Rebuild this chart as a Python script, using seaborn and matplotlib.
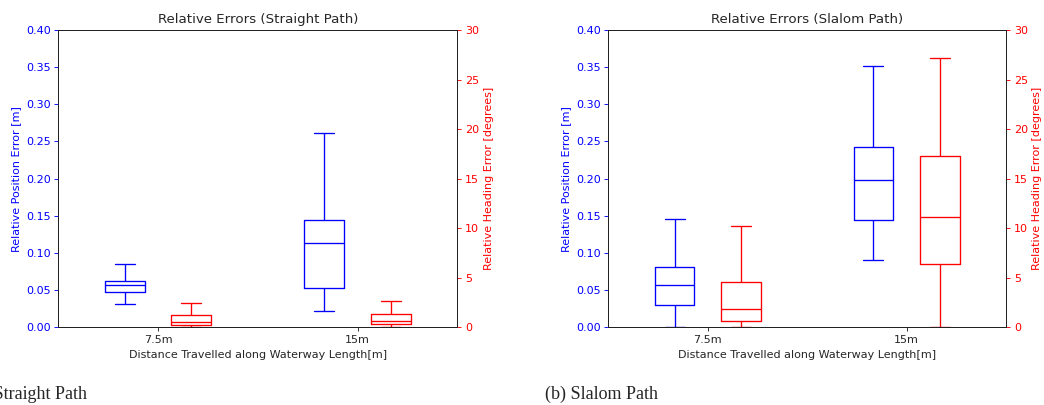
import numpy as np
import pandas as pd
import matplotlib
matplotlib.use("Agg")
import matplotlib.pyplot as plt
import seaborn as sns

# Distance categories along the waterway
distances = ["7.5m", "15m"]

# Five-number summaries (min, q1, median, q3, max) per distance
straight_position = {  # metres
    "7.5m": [0.031, 0.047, 0.0566, 0.0628, 0.085],
    "15m": [0.0215, 0.0533, 0.114, 0.1441, 0.2613],
}
straight_heading = {  # degrees
    "7.5m": [0.05, 0.23, 0.54, 1.21, 2.42],
    "15m": [0.05, 0.33, 0.64, 1.31, 2.69],
}
slalom_position = {  # metres
    "7.5m": [0.001, 0.0296, 0.0574, 0.0812, 0.1455],
    "15m": [0.0902, 0.1441, 0.1984, 0.2432, 0.3515],
}
slalom_heading = {  # degrees
    "7.5m": [0.02, 0.64, 1.85, 4.55, 10.23],
    "15m": [0.05, 6.36, 11.14, 17.27, 27.17],
}

pos_ticks = [0.00, 0.05, 0.10, 0.15, 0.20, 0.25, 0.30, 0.35, 0.40]
head_ticks = [0, 5, 10, 15, 20, 25, 30]

DPI = 80
W, H = 1044, 405

sns.set_style("ticks")
plt.rcParams["font.family"] = ["DejaVu Sans"]
plt.rcParams["font.size"] = 10
plt.rcParams["axes.edgecolor"] = "#222222"
plt.rcParams["axes.linewidth"] = 0.9
plt.rcParams["xtick.major.size"] = 3.5
plt.rcParams["ytick.major.size"] = 3.5
plt.rcParams["xtick.major.pad"] = 3.5
plt.rcParams["ytick.major.pad"] = 3.5


def to_frame(summary, metric):
    rows = []
    for d in distances:
        for v in summary[d]:
            rows.append({"distance": d, "metric": metric, "value": v})
    return pd.DataFrame(rows)


def panel(fig, rect, title, position, heading):
    ax = fig.add_axes(rect)
    ax2 = ax.twinx()
    palette = {"position": "blue", "heading": "red"}
    common = dict(x="distance", y="value", hue="metric",
                  order=distances, hue_order=["position", "heading"],
                  palette=palette, fill=False, width=0.667, gap=0.4,
                  whis=(0, 100), linewidth=1.2, legend=False, dodge=True)
    sns.boxplot(data=to_frame(position, "position"), ax=ax, **common)
    sns.boxplot(data=to_frame(heading, "heading"), ax=ax2, **common)

    ax.set_xlim(-0.5, 1.5)
    ax2.set_xlim(-0.5, 1.5)
    ax.set_ylim(0, 0.40)
    ax2.set_ylim(0, 30)
    ax.set_yticks(pos_ticks)
    ax.set_yticklabels([f"{t:.2f}" for t in pos_ticks])
    ax2.set_yticks(head_ticks)

    ax.tick_params(axis="y", colors="blue", labelsize=10)
    ax2.tick_params(axis="y", colors="red", labelsize=10)
    ax.tick_params(axis="x", labelsize=10, color="#222222")
    ax.set_ylabel("Relative Position Error [m]", color="blue", fontsize=10)
    ax2.set_ylabel("Relative Heading Error [degrees]", color="red", fontsize=10)
    ax.set_xlabel("Distance Travelled along Waterway Length[m]", fontsize=10)
    ax2.set_xlabel("")
    ax.set_title(title, fontsize=12)
    return ax, ax2


fig = plt.figure(figsize=(W / DPI, H / DPI), dpi=DPI)
panel(fig, [58.3 / W, 1 - 327.3 / H, 399 / W, 297.3 / H],
      "Relative Errors (Straight Path)", straight_position, straight_heading)
panel(fig, [608.3 / W, 1 - 327.3 / H, 397.7 / W, 297.3 / H],
      "Relative Errors (Slalom Path)", slalom_position, slalom_heading)

cap_font = dict(family=["Liberation Serif", "DejaVu Serif"], fontsize=16.2)
fig.text(87 / W, 1 - 394 / H, "(a) Straight Path", ha="right", va="center", **cap_font)
fig.text(545 / W, 1 - 394 / H, "(b) Slalom Path", ha="left", va="center", **cap_font)

fig.savefig("out.png", dpi=DPI)
